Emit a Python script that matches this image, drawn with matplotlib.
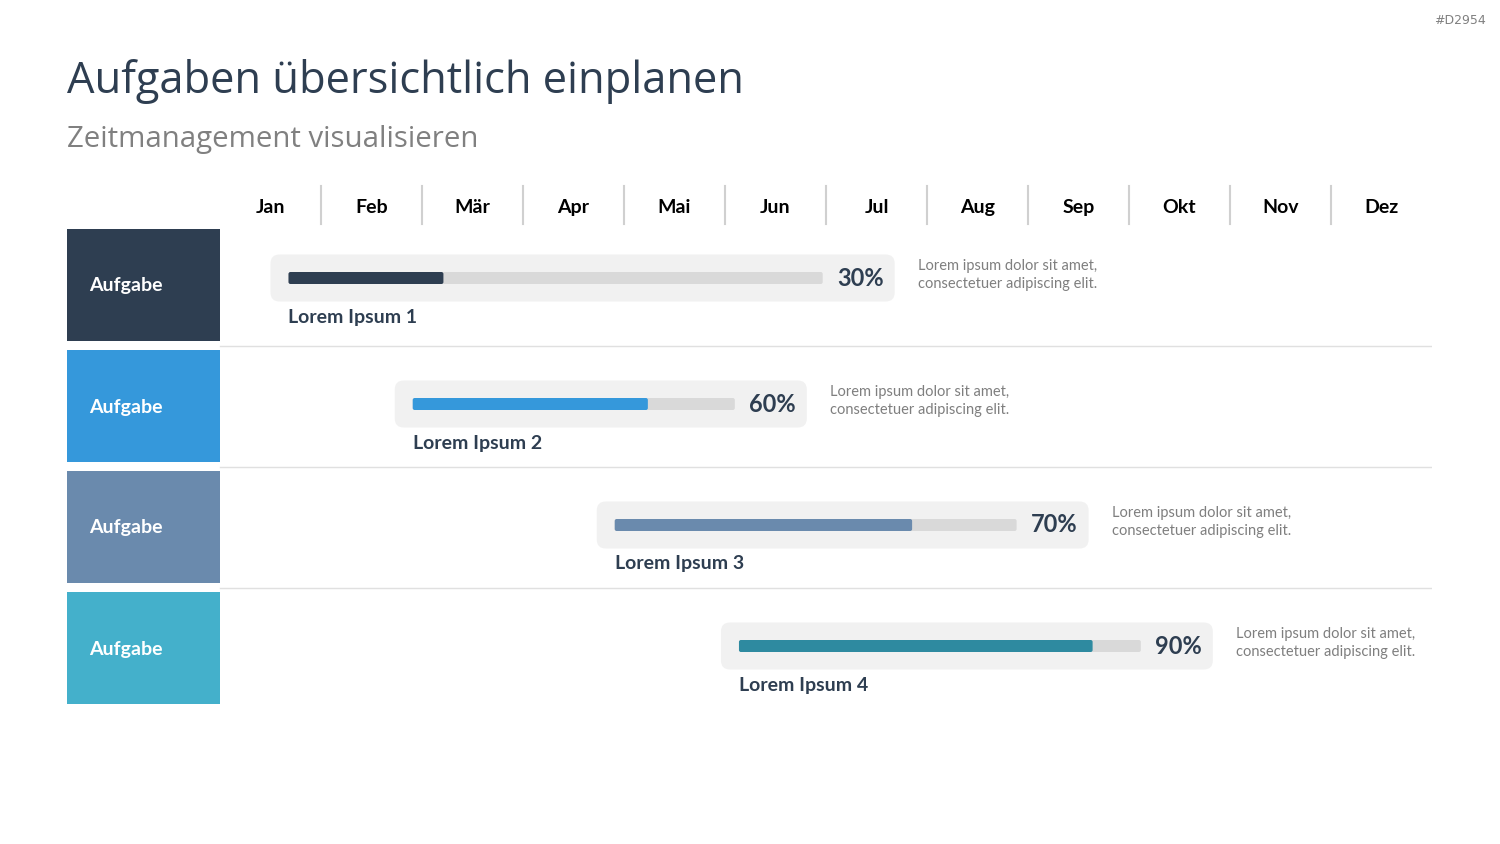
import matplotlib.pyplot as plt
from matplotlib.patches import FancyBboxPatch, Rectangle

# data
months = ['Jan', 'Feb', 'Mär', 'Apr', 'Mai', 'Jun', 'Jul', 'Aug', 'Sep', 'Okt', 'Nov', 'Dez']
tasks = ['Lorem Ipsum 1', 'Lorem Ipsum 2', 'Lorem Ipsum 3', 'Lorem Ipsum 4']
task_start = [0.50, 1.73, 3.73, 4.96]   # in months from start of Jan
task_end = [6.68, 5.81, 8.60, 9.83]
progress = [30, 60, 70, 90]
fill_shown = [0.29, 0.73, 0.74, 0.88]   # fraction of the track filled as drawn
row_label = 'Aufgabe'
desc = 'Lorem ipsum dolor sit amet,\nconsectetuer adipiscing elit.'

box_colors = ['#2e3e51', '#3598db', '#6a8aad', '#44b0cb']
fill_colors = ['#2e3e51', '#3598db', '#6a8aad', '#2e8aa0']
dark = '#2e3e51'

fig = plt.figure(figsize=(15, 8.44), dpi=100)
fig.patch.set_facecolor('white')

# pixel geometry of the plotting area
left_px, right_px, top_px, bot_px = 67, 1432, 180, 710
month_px = 101.0
row_px = 121.0
ax = fig.add_axes([left_px / 1500, (844 - bot_px) / 844,
                   (right_px - left_px) / 1500, (bot_px - top_px) / 844])
x0 = -(220 - left_px) / month_px
ax.set_xlim(x0, 12)
ax.set_ylim((bot_px - 285) / row_px, (top_px - 285) / row_px)
ax.axis('off')

px = 1 / month_px   # one pixel in x units
py = 1 / row_px     # one pixel in y units
asp = month_px / row_px

# month header
for i, m in enumerate(months):
    ax.text(i + 0.5, -72 * py, m, ha='center', va='baseline', fontsize=14,
            fontweight='bold', family='Lato', color='black')
    if i > 0:
        ax.plot([i, i], [-99 * py, -61 * py], color='#d0d0d0', lw=1.5)

# row separators
for i in range(len(tasks) - 1):
    ax.plot([0, 12], [i + 0.5, i + 0.5], color='#e0e0e0', lw=1)

for i, t in enumerate(tasks):
    # coloured label box on the left
    ax.add_patch(Rectangle((x0, i - 56 * py), -x0, 112 * py, color=box_colors[i], lw=0))
    ax.text(x0 + 22 * px, i + 1 * py, row_label, ha='left', va='center', fontsize=14,
            fontweight='bold', family='Lato', color='white')

    yc = i - (7 if i == 0 else 2) * py
    s, e = task_start[i], task_end[i]
    h = 47 * py
    ax.add_patch(FancyBboxPatch((s, yc - h / 2), e - s, h,
                                boxstyle='round,pad=0,rounding_size=%f' % (9 * px),
                                mutation_aspect=asp, fc='#f1f1f1', ec='none'))
    # progress track
    ts, te = s + 18 * px, e - 72 * px
    th = 12 * py
    ax.add_patch(FancyBboxPatch((ts, yc - th / 2), te - ts, th,
                                boxstyle='round,pad=0,rounding_size=%f' % (2 * px),
                                mutation_aspect=asp, fc='#d9d9d9', ec='none'))
    ax.add_patch(FancyBboxPatch((ts, yc - th / 2), (te - ts) * fill_shown[i], th,
                                boxstyle='round,pad=0,rounding_size=%f' % (2 * px),
                                mutation_aspect=asp, fc=fill_colors[i], ec='none'))
    ax.text(e - 11 * px, yc, '%d%%' % progress[i], ha='right', va='center',
            fontsize=17, fontweight='bold', family='Lato', color=dark)
    ax.text(ts, yc + 39 * py, t, ha='left', va='center', fontsize=14,
            fontweight='bold', family='Lato', color=dark)
    ax.text(e + 23 * px, yc - 3 * py, desc, ha='left', va='center', fontsize=10.5,
            family='Lato', color='#7f7f7f', linespacing=1.35)

# titles
fig.text(67 / 1500, 1 - 81 / 844, 'Aufgaben übersichtlich einplanen', ha='left', va='center',
         fontsize=31.3, family='Open Sans', color=dark)
fig.text(67 / 1500, 1 - 139 / 844, 'Zeitmanagement visualisieren', ha='left', va='center',
         fontsize=21.2, family='Open Sans', color='#808080')
fig.text(1486 / 1500, 1 - 20 / 844, '#D2954', ha='right', va='center',
         fontsize=9, family='DejaVu Sans', color='#808080')

fig.savefig('out.png', dpi=100, facecolor='white')
